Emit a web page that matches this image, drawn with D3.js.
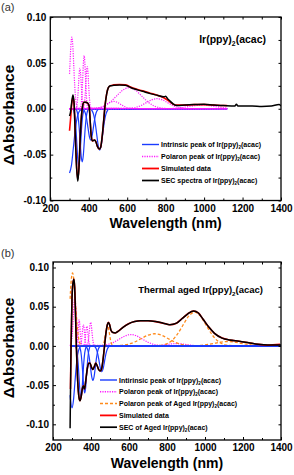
<!DOCTYPE html>
<html>
<head>
<meta charset="utf-8">
<script src="https://d3js.org/d3.v7.min.js"></script>
<style>
  body { margin: 0; background: #fff; }
  svg text { font-family: "Liberation Sans", Arial, sans-serif; }
  .frame { fill: none; stroke: #000; stroke-width: 1.3; }
  .axis path { display: none; }
  .axis line { stroke: #000; stroke-width: 1; }
  .axis text { font-size: 10px; font-weight: bold; fill: #000; font-family: "Liberation Sans", Arial, sans-serif; }
</style>
</head>
<body>
<svg id="chart" width="294" height="475"></svg>
<script>
// ---- shared ticks ----
var wavelengthTicks = [200, 400, 600, 800, 1000, 1200, 1400];
var wavelengthMinor = [300, 500, 700, 900, 1100, 1300];
var absTicks = [-0.10, -0.05, 0.00, 0.05, 0.10];
var absMinor = [-0.075, -0.025, 0.025, 0.075];

// ---- panel (a): fresh Ir(ppy)2(acac) ----
var intrinsicA = [
  [[300,-0.070],[310,-0.0618],[320,-0.0425],[330,-0.0227],[340,-0.0095],[350,-0.0031],[360,-0.0008],[370,0]],
  [[318,-0.0007],[323,-0.0028],[328,-0.0085],[333,-0.0205],[338,-0.0382],[343,-0.0556],[348,-0.063],[353,-0.0556],[358,-0.0382],[363,-0.0205],[368,-0.0085],[373,-0.0028],[378,-0.0007]],
  [[333,-0.0006],[338.5,-0.0025],[344,-0.0078],[349.5,-0.0188],[355,-0.0352],[360.5,-0.0512],[366,-0.058],[371.5,-0.0512],[377,-0.0352],[382.5,-0.0188],[388,-0.0078],[393.5,-0.0025],[399,-0.0006]],
  [[368,-0.0004],[375,-0.0015],[382,-0.0046],[389,-0.011],[396,-0.0206],[403,-0.030],[410,-0.034],[417,-0.030],[424,-0.0206],[431,-0.011],[438,-0.0046],[445,-0.0015],[452,-0.0004]],
  [[409,-0.0005],[417,-0.002],[425,-0.0061],[433,-0.0146],[441,-0.0273],[449,-0.0397],[457,-0.045],[465,-0.0397],[473,-0.0273],[481,-0.0146],[489,-0.0061],[497,-0.002],[505,-0.0005]]
];
var polaronA = [
  [[300,0.038],[302,0.047],[307,0.0688],[312,0.078],[317,0.0688],[322,0.0473],[327,0.0253],[332,0.0106],[337,0.0034],[342,0.0009],[350,0]],
  [[333,0.0005],[336.5,0.0019],[340,0.006],[343.5,0.0143],[347,0.0267],[350.5,0.0388],[354,0.044],[357.5,0.0388],[361,0.0267],[364.5,0.0143],[368,0.006],[371.5,0.0019],[375,0.0005]],
  [[355,0.0006],[358.5,0.0025],[362,0.0078],[365.5,0.0188],[369,0.0352],[372.5,0.0512],[376,0.058],[379.5,0.0512],[383,0.0352],[386.5,0.0188],[390,0.0078],[393.5,0.0025],[397,0.0006]],
  [[371,0.0005],[374.5,0.002],[378,0.0062],[381.5,0.0149],[385,0.0279],[388.5,0.0406],[392,0.046],[395.5,0.0406],[399,0.0279],[402.5,0.0149],[406,0.0062],[409.5,0.002],[413,0.0005]],
  [[425,0.0001],[442.5,0.0004],[460,0.0011],[477.5,0.0026],[495,0.0049],[512.5,0.0071],[530,0.008],[547.5,0.0071],[565,0.0049],[582.5,0.0026],[600,0.0011],[617.5,0.0004],[635,0.0001]],
  [[415,0.0003],[447.5,0.001],[480,0.0031],[512.5,0.0075],[545,0.014],[577.5,0.0203],[610,0.023],[642.5,0.0203],[675,0.014],[707.5,0.0075],[740,0.0031],[772.5,0.001],[805,0.0003]],
  [[590,0.0001],[617.5,0.0005],[645,0.0015],[672.5,0.0036],[700,0.0067],[727.5,0.0097],[755,0.011],[782.5,0.0097],[810,0.0067],[837.5,0.0036],[865,0.0015],[892.5,0.0005],[920,0.0001]],
  [[780,0],[815,0.0002],[850,0.0005],[885,0.0013],[920,0.0024],[955,0.0035],[990,0.004],[1025,0.0035],[1060,0.0024],[1095,0.0013],[1120,0.0007]]
];
var simulatedA = [[300,-0.024],[305,-0.012],[312,0.006],[318,0.013],[324,0.004],[330,-0.030],[337,-0.064],[343,-0.077],[349,-0.064],[356,-0.030],[362,-0.008],[368,0.003],[375,0.007],[385,0.007],[395,0.006],[402,0.003],[408,-0.015],[413,-0.030],[420,-0.035],[430,-0.034],[437,-0.036],[445,-0.041],[455,-0.044],[462,-0.042],[470,-0.030],[478,-0.012],[485,0.004],[493,0.016],[502,0.023],[512,0.025],[530,0.026],[560,0.0265],[590,0.026],[630,0.0225],[680,0.0195],[720,0.017],[760,0.0145],[790,0.012],[810,0.0095],[825,0.007],[840,0.005],[860,0.004],[900,0.004],[950,0.0045],[1000,0.0045],[1050,0.004],[1100,0.0035],[1120,0.0035]];
var secA = [[300,-0.008],[305,-0.004],[312,0.008],[318,0.015],[324,0.005],[330,-0.030],[337,-0.065],[343,-0.079],[349,-0.065],[356,-0.030],[362,-0.008],[368,0.003],[375,0.007],[385,0.007],[395,0.006],[402,0.003],[408,-0.015],[413,-0.030],[420,-0.035],[430,-0.034],[437,-0.036],[445,-0.041],[455,-0.044],[462,-0.042],[470,-0.030],[478,-0.012],[485,0.004],[493,0.016],[502,0.023],[512,0.025],[530,0.0255],[560,0.026],[590,0.0255],[630,0.022],[680,0.019],[720,0.0165],[760,0.0145],[790,0.013],[800,0.0135],[810,0.011],[825,0.008],[840,0.005],[860,0.0035],[900,0.004],[950,0.0045],[1000,0.005],[1050,0.004],[1100,0.0035],[1160,0.003],[1168,0.005],[1176,0.003],[1250,0.003],[1300,0.0025],[1350,0.003],[1390,0.0045],[1400,0.003]];

// ---- panel (b): thermally aged Ir(ppy)2(acac) ----
var intrinsicB = [
  [[290,-0.063],[292.5,-0.0697],[300,-0.079],[307.5,-0.0697],[315,-0.0479],[322.5,-0.0257],[330,-0.0107],[337.5,-0.0035],[345,-0.0009],[355,0]],
  [[317,-0.0007],[322,-0.0029],[327,-0.0089],[332,-0.0214],[337,-0.040],[342,-0.0582],[347,-0.066],[352,-0.0582],[357,-0.040],[362,-0.0214],[367,-0.0089],[372,-0.0029],[377,-0.0007]],
  [[337,-0.0007],[342,-0.0026],[347,-0.0081],[352,-0.0195],[357,-0.0364],[362,-0.053],[367,-0.060],[372,-0.053],[377,-0.0364],[382,-0.0195],[387,-0.0081],[392,-0.0026],[397,-0.0007]],
  [[371,-0.0005],[377.5,-0.0019],[384,-0.006],[390.5,-0.0143],[397,-0.0267],[403.5,-0.0388],[410,-0.044],[416.5,-0.0388],[423,-0.0267],[429.5,-0.0143],[436,-0.006],[442.5,-0.0019],[449,-0.0005]],
  [[415,-0.0004],[422,-0.0014],[429,-0.0045],[436,-0.0107],[443,-0.020],[450,-0.0291],[457,-0.033],[464,-0.0291],[471,-0.020],[478,-0.0107],[485,-0.0045],[492,-0.0014],[499,-0.0004]]
];
var polaronB = [
  [[291,0.0007],[295,0.0027],[299,0.0084],[303,0.0201],[307,0.0376],[311,0.0547],[315,0.062],[319,0.0547],[323,0.0376],[327,0.0201],[331,0.0084],[335,0.0027],[339,0.0007]],
  [[322,0.0004],[325,0.0016],[328,0.0052],[331,0.0122],[334,0.0229],[337,0.0332],[340,0.030],[343,0.0182],[346,0.0097],[349,0.0041],[352,0.0013],[355,0.0003]],
  [[342,0.0003],[345,0.0012],[348,0.0037],[351,0.0088],[354,0.0164],[357,0.0238],[360,0.027],[363,0.0238],[366,0.0164],[369,0.0088],[372,0.0037],[375,0.0012],[378,0.0003]],
  [[360,0.0003],[363,0.0011],[366,0.0034],[369,0.0081],[372,0.0152],[375,0.0221],[378,0.025],[381,0.0221],[384,0.0152],[387,0.0081],[390,0.0034],[393,0.0011],[396,0.0003]],
  [[377,0.0003],[380.5,0.0013],[384,0.0041],[387.5,0.0097],[391,0.0182],[394.5,0.0265],[398,0.030],[401.5,0.0265],[405,0.0182],[408.5,0.0097],[412,0.0041],[415.5,0.0013],[419,0.0003]],
  [[430,0.0002],[460,0.0006],[490,0.002],[520,0.0047],[550,0.0088],[580,0.0128],[610,0.0145],[640,0.0128],[670,0.0088],[700,0.0047],[730,0.002],[760,0.0006],[790,0.0002]],
  [[700,0],[725,0.0002],[750,0.0004],[775,0.001],[800,0.0018],[825,0.0026],[850,0.003],[875,0.0026],[900,0.0018],[925,0.001],[950,0.0004],[975,0.0002],[1000,0]]
];
var agedB = [
  [[290,0.060],[296,0.0838],[303,0.093],[310.5,0.0821],[318,0.0564],[325.5,0.0302],[333,0.0126],[340.5,0.0041],[348,0.001],[360,0]],
  [[457,0.0003],[462,0.0011],[467,0.0035],[472,0.0084],[477,0.0158],[482,0.0229],[487,0.026],[492,0.0229],[497,0.0158],[502,0.0084],[507,0.0035],[512,0.0011],[517,0.0003]],
  [[525,0.0002],[560,0.0007],[595,0.0021],[630,0.005],[665,0.0094],[700,0.0137],[735,0.0155],[770,0.0137],[805,0.0094],[840,0.005],[875,0.0021],[910,0.0007],[945,0.0002]],
  [[759,0.0005],[790,0.0019],[821,0.0058],[852,0.014],[883,0.026],[914,0.0379],[945,0.043],[976,0.0379],[1007,0.026],[1038,0.014],[1069,0.0058],[1100,0.0019],[1131,0.0005]],
  [[910,0.0001],[945,0.0002],[980,0.0007],[1015,0.0018],[1050,0.0033],[1085,0.0049],[1120,0.0055],[1155,0.0049],[1190,0.0033],[1225,0.0018],[1260,0.0007],[1295,0.0002],[1330,0.0001]]
];
var secB = [[290,-0.105],[292,-0.060],[295,0.000],[300,0.060],[305,0.080],[310,0.085],[314,0.075],[318,0.045],[323,0.000],[330,-0.045],[337,-0.066],[342,-0.070],[348,-0.065],[354,-0.055],[360,-0.051],[366,-0.055],[372,-0.045],[380,-0.030],[388,-0.022],[395,-0.022],[402,-0.027],[410,-0.030],[418,-0.026],[425,-0.022],[432,-0.025],[440,-0.030],[448,-0.032],[455,-0.030],[462,-0.020],[470,-0.003],[478,0.015],[486,0.027],[492,0.030],[498,0.027],[505,0.020],[515,0.017],[528,0.0165],[545,0.019],[570,0.024],[600,0.0285],[630,0.031],[660,0.032],[700,0.032],[740,0.031],[780,0.029],[815,0.027],[850,0.029],[880,0.035],[910,0.041],[940,0.0445],[965,0.042],[990,0.034],[1020,0.024],[1050,0.016],[1090,0.010],[1130,0.0075],[1180,0.006],[1230,0.004],[1280,0.002],[1330,0.001],[1380,0.001],[1400,0.001]];
var simulatedB = [[292,-0.055],[295,0.000],[300,0.060],[305,0.080],[310,0.085],[314,0.075],[318,0.045],[323,0.000],[330,-0.045],[337,-0.066],[342,-0.070],[348,-0.065],[354,-0.055],[360,-0.051],[366,-0.055],[372,-0.045],[380,-0.030],[388,-0.022],[395,-0.022],[402,-0.027],[410,-0.030],[418,-0.026],[425,-0.022],[432,-0.025],[440,-0.030],[448,-0.032],[455,-0.030],[462,-0.020],[470,-0.003],[478,0.015],[486,0.027],[492,0.030],[498,0.027],[505,0.020],[515,0.017],[528,0.0165],[545,0.019],[570,0.024],[600,0.0285],[630,0.031],[660,0.032],[700,0.032],[740,0.031],[780,0.029],[815,0.027],[850,0.029],[880,0.035],[910,0.041],[940,0.0445],[965,0.042],[990,0.034],[1020,0.024],[1050,0.016],[1090,0.010],[1130,0.0075],[1180,0.006],[1230,0.004],[1280,0.002],[1330,0.001],[1395,0.002]];

var legendA = ["Intrinsic peak of ", "Polaron peak of ", "Simulated data", "SEC spectra of "];
var legendB = ["Intirinsic peak of ", "Polaron peak of ", "Polaron peak of Aged ", "Simulated data", "SEC of Aged "];

var styles = {
  intrinsic: { stroke: "#1a3cff", width: 1.2, dash: null },
  polaron:   { stroke: "#ff1aff", width: 1.2, dash: "1.2,1.2" },
  aged:      { stroke: "#ff8a1a", width: 1.3, dash: "3,2" },
  simulated: { stroke: "#ff0000", width: 1.6, dash: null },
  sec:       { stroke: "#000000", width: 1.5, dash: null }
};

var svg = d3.select("#chart");

function addFormula(g, x, y, prefix, size, anchor, sub) {
  // writes prefix + Ir(ppy)2(acac) with the 2 lowered
  var t = g.append("text").attr("x", x).attr("y", y)
    .attr("font-size", size).attr("font-weight", "bold")
    .attr("text-anchor", anchor || "start");
  if (sub === false) { t.text(prefix); return t; }
  t.append("tspan").text(prefix + "Ir(ppy)");
  t.append("tspan").attr("dy", size * 0.3).attr("font-size", size * 0.65).text("2");
  t.append("tspan").attr("dy", -size * 0.3).text("(acac)");
  return t;
}

function drawPanel(p) {
  var x = d3.scaleLinear().domain([200, 1400]).range([p.left, p.right]);
  var y = d3.scaleLinear().domain(p.yDomain).range([p.bottom, p.top]);
  var g = svg.append("g");

  var clipId = "clip" + p.name;
  svg.append("clipPath").attr("id", clipId).append("rect")
    .attr("x", p.left).attr("y", p.top)
    .attr("width", p.right - p.left).attr("height", p.bottom - p.top);

  var line = d3.line().x(function(d){ return x(d[0]); }).y(function(d){ return y(d[1]); })
    .curve(d3.curveMonotoneX);

  function withBase(pts) {
    var out = pts.slice();
    if (out[0][0] > p.start) out.unshift([p.start, 0]);
    if (out[out.length-1][0] < p.end) out.push([p.end, 0]);
    return out;
  }

  var plot = g.append("g").attr("clip-path", "url(#" + clipId + ")");
  p.layers.forEach(function(layer) {
    var st = styles[layer.style];
    var sets = layer.peaks ? layer.data.map(withBase) : [layer.data];
    plot.selectAll(null).data(sets).enter().append("path")
      .attr("d", line)
      .attr("fill", "none")
      .attr("stroke", st.stroke)
      .attr("stroke-width", st.width)
      .attr("stroke-dasharray", st.dash)
      .attr("stroke-linejoin", "round");
  });

  // axes with inward ticks
  var h = p.bottom - p.top, w = p.right - p.left;
  g.append("g").attr("class", "axis").attr("transform", "translate(0," + p.bottom + ")")
    .call(d3.axisBottom(x).tickValues(wavelengthTicks).tickSize(-3).tickPadding(4).tickFormat(d3.format("d")));
  g.append("g").attr("class", "axis").attr("transform", "translate(0," + p.bottom + ")")
    .call(d3.axisBottom(x).tickValues(wavelengthMinor).tickSize(-2).tickFormat(""));
  g.append("g").attr("class", "axis").attr("transform", "translate(0," + p.top + ")")
    .call(d3.axisTop(x).tickValues(wavelengthTicks.concat(wavelengthMinor)).tickSize(-2.5).tickFormat(""));
  g.append("g").attr("class", "axis").attr("transform", "translate(" + p.left + ",0)")
    .call(d3.axisLeft(y).tickValues(absTicks).tickSize(-3).tickPadding(4).tickFormat(function(d){ return d.toFixed(2); }));
  g.append("g").attr("class", "axis").attr("transform", "translate(" + p.left + ",0)")
    .call(d3.axisLeft(y).tickValues(absMinor).tickSize(-2).tickFormat(""));
  g.append("g").attr("class", "axis").attr("transform", "translate(" + p.right + ",0)")
    .call(d3.axisRight(y).tickValues(absTicks.concat(absMinor)).tickSize(-2.5).tickFormat(""));

  g.append("rect").attr("class", "frame")
    .attr("x", p.left).attr("y", p.top).attr("width", w).attr("height", h);

  // titles
  g.append("text").attr("x", (p.left + p.right) / 2).attr("y", p.bottom + 27.5)
    .attr("text-anchor", "middle").attr("font-size", 14).attr("font-weight", "bold")
    .text("Wavelength (nm)");
  g.append("text").attr("transform", "translate(14," + p.ylabelY + ") rotate(-90)")
    .attr("text-anchor", "middle").attr("font-size", 15.5).attr("font-weight", "bold")
    .text("\u0394Absorbance");
  g.append("text").attr("x", 1).attr("y", p.tagY).attr("font-size", 11).attr("fill", "#333")
    .text(p.tag);

  addFormula(g, p.noteX, p.noteY, p.notePrefix, p.noteSize, "end");

  // legend
  var lg = g.append("g");
  p.legend.forEach(function(item, i) {
    var st = styles[item.style];
    var yy = p.legendY + i * p.legendStep;
    lg.append("line").attr("x1", p.legendX).attr("x2", p.legendX + 17)
      .attr("y1", yy - 2.5).attr("y2", yy - 2.5)
      .attr("stroke", st.stroke).attr("stroke-width", st.width + 0.2)
      .attr("stroke-dasharray", st.dash);
    addFormula(lg, p.legendX + 19, yy, item.text, 7, "start", item.formula);
  });
}

drawPanel({
  name: "A", left: 50.3, right: 281, top: 17, bottom: 200.5, yDomain: [-0.10, 0.10],
  start: 300, end: 1120, tag: "(a)", tagY: 11, ylabelY: 115,
  noteX: 266, noteY: 43, noteSize: 10.5, notePrefix: "",
  legendX: 142, legendY: 147, legendStep: 12,
  legend: [
    { text: legendA[0], style: "intrinsic", formula: true },
    { text: legendA[1], style: "polaron", formula: true },
    { text: legendA[2], style: "simulated", formula: false },
    { text: legendA[3], style: "sec", formula: true }
  ],
  layers: [
    { style: "intrinsic", data: intrinsicA, peaks: true },
    { style: "polaron", data: polaronA, peaks: true },
    { style: "simulated", data: simulatedA },
    { style: "sec", data: secA }
  ]
});

drawPanel({
  name: "B", left: 53, right: 281, top: 262, bottom: 440, yDomain: [-0.12, 0.107],
  start: 290, end: 1400, tag: "(b)", tagY: 257, ylabelY: 348,
  noteX: 263, noteY: 293, noteSize: 9.5, notePrefix: "Thermal aged ",
  legendX: 100, legendY: 382.5, legendStep: 11.8,
  legend: [
    { text: legendB[0], style: "intrinsic", formula: true },
    { text: legendB[1], style: "polaron", formula: true },
    { text: legendB[2], style: "aged", formula: true },
    { text: legendB[3], style: "simulated", formula: false },
    { text: legendB[4], style: "sec", formula: true }
  ],
  layers: [
    { style: "polaron", data: polaronB, peaks: true },
    { style: "aged", data: agedB, peaks: true },
    { style: "intrinsic", data: intrinsicB, peaks: true },
    { style: "simulated", data: simulatedB },
    { style: "sec", data: secB }
  ]
});
</script>
</body>
</html>
